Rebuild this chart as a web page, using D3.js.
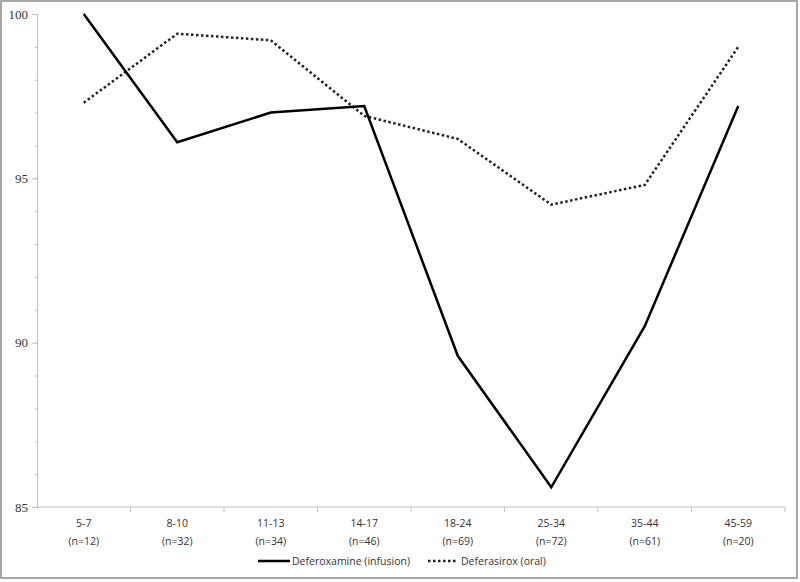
<!DOCTYPE html>
<html lang="en">
    <head>
        <meta charset="utf-8">
        <title>Deferoxamine vs Deferasirox</title>
        <script type="text/javascript" src="https://cdn.jsdelivr.net/npm/d3@7"></script>
        <style type="text/css">
            body { margin: 0; background: #fff; }
        </style>
    </head>
    <body>
        <script type="text/javascript">

            //Width and height
            var w = 800;
            var h = 582;

            // data
            var ageGroups = ["5-7", "8-10", "11-13", "14-17", "18-24", "25-34", "35-44", "45-59"];
            var groupN = [12, 32, 34, 46, 69, 72, 61, 20];
            var deferoxamine = [100, 96.1, 97.0, 97.2, 89.6, 85.6, 90.5, 97.2];
            var deferasirox = [97.3, 99.4, 99.2, 96.9, 96.2, 94.2, 94.8, 99.0];
            var yTicks = [85, 90, 95, 100];

            var svg = d3.select("body")
                        .append("svg")
                        .attr("width", w)
                        .attr("height", h);

            // outer frame
            svg.append("rect")
               .attr("x", 1).attr("y", 1)
               .attr("width", w - 4).attr("height", h - 5)
               .attr("fill", "#fff")
               .attr("stroke", "#a6a6a6")
               .attr("stroke-width", 2);

            var plotLeft = 37, plotRight = 785, plotTop = 14, plotBottom = 507;

            var x = d3.scaleBand()
                      .domain(ageGroups)
                      .range([plotLeft, plotRight]);

            var y = d3.scaleLinear()
                      .domain([85, 100])
                      .range([plotBottom, plotTop]);

            var axisColor = "#bfbfbf";

            // y axis minor ticks
            var yMinor = svg.append("g")
                .attr("transform", "translate(" + plotLeft + ",0)")
                .call(d3.axisLeft(y).tickValues(d3.range(85, 101, 1)).tickSize(3).tickFormat(""));
            yMinor.select(".domain").remove();
            yMinor.selectAll("line").attr("stroke", axisColor).attr("x2", 1).attr("x1", -2);

            var yMajor = svg.append("g")
                .attr("transform", "translate(" + plotLeft + ",0)")
                .call(d3.axisLeft(y).tickValues(yTicks).tickSize(5).tickPadding(4).tickSizeOuter(0));
            yMajor.select(".domain").attr("stroke", axisColor);
            yMajor.selectAll("line").attr("stroke", axisColor);
            yMajor.selectAll("text")
                  .attr("font-family", "'Liberation Serif', serif")
                  .attr("font-size", "13px")
                  .attr("fill", "#333");

            // x axis
            svg.append("line")
               .attr("x1", plotLeft).attr("x2", plotRight)
               .attr("y1", plotBottom).attr("y2", plotBottom)
               .attr("stroke", axisColor);

            // boundary ticks between categories
            svg.selectAll(".xtick")
               .data(ageGroups)
               .enter()
               .append("line")
               .attr("x1", function(d) { return x(d) + x.bandwidth(); })
               .attr("x2", function(d) { return x(d) + x.bandwidth(); })
               .attr("y1", plotBottom)
               .attr("y2", plotBottom + 5)
               .attr("stroke", axisColor);

            var labels = svg.selectAll(".xlabel")
               .data(ageGroups)
               .enter()
               .append("text")
               .attr("text-anchor", "middle")
               .attr("font-family", "'Open Sans', sans-serif")
               .attr("font-size", "10.5px")
               .attr("fill", "#333");
            labels.append("tspan")
                  .attr("x", function(d) { return x(d) + x.bandwidth() / 2; })
                  .attr("y", plotBottom + 20)
                  .text(function(d) { return d; });
            labels.append("tspan")
                  .attr("x", function(d) { return x(d) + x.bandwidth() / 2; })
                  .attr("y", plotBottom + 38)
                  .text(function(d, i) { return "(n=" + groupN[i] + ")"; });

            var line = d3.line()
                .x(function(d, i) { return x(ageGroups[i]) + x.bandwidth() / 2; })
                .y(function(d) { return y(d); });

            svg.append("path")
               .datum(deferasirox)
               .attr("d", line)
               .attr("fill", "none")
               .attr("stroke", "#222")
               .attr("stroke-width", 2.5)
               .attr("stroke-dasharray", "2.5,2.5");

            svg.append("path")
               .datum(deferoxamine)
               .attr("d", line)
               .attr("fill", "none")
               .attr("stroke", "#000")
               .attr("stroke-width", 2.5);

            // legend
            var legendY = 561;
            svg.append("line")
               .attr("x1", 258).attr("x2", 290)
               .attr("y1", legendY).attr("y2", legendY)
               .attr("stroke", "#000").attr("stroke-width", 2.5);
            svg.append("text")
               .attr("x", 292).attr("y", legendY + 4)
               .attr("font-family", "'Open Sans', sans-serif")
               .attr("font-size", "10.5px")
               .attr("fill", "#333")
               .text("Deferoxamine (infusion)");
            svg.append("line")
               .attr("x1", 428).attr("x2", 458)
               .attr("y1", legendY).attr("y2", legendY)
               .attr("stroke", "#222").attr("stroke-width", 2.5)
               .attr("stroke-dasharray", "2.5,2.5");
            svg.append("text")
               .attr("x", 461).attr("y", legendY + 4)
               .attr("font-family", "'Open Sans', sans-serif")
               .attr("font-size", "10.5px")
               .attr("fill", "#333")
               .text("Deferasirox (oral)");

        </script>
    </body>
</html>
